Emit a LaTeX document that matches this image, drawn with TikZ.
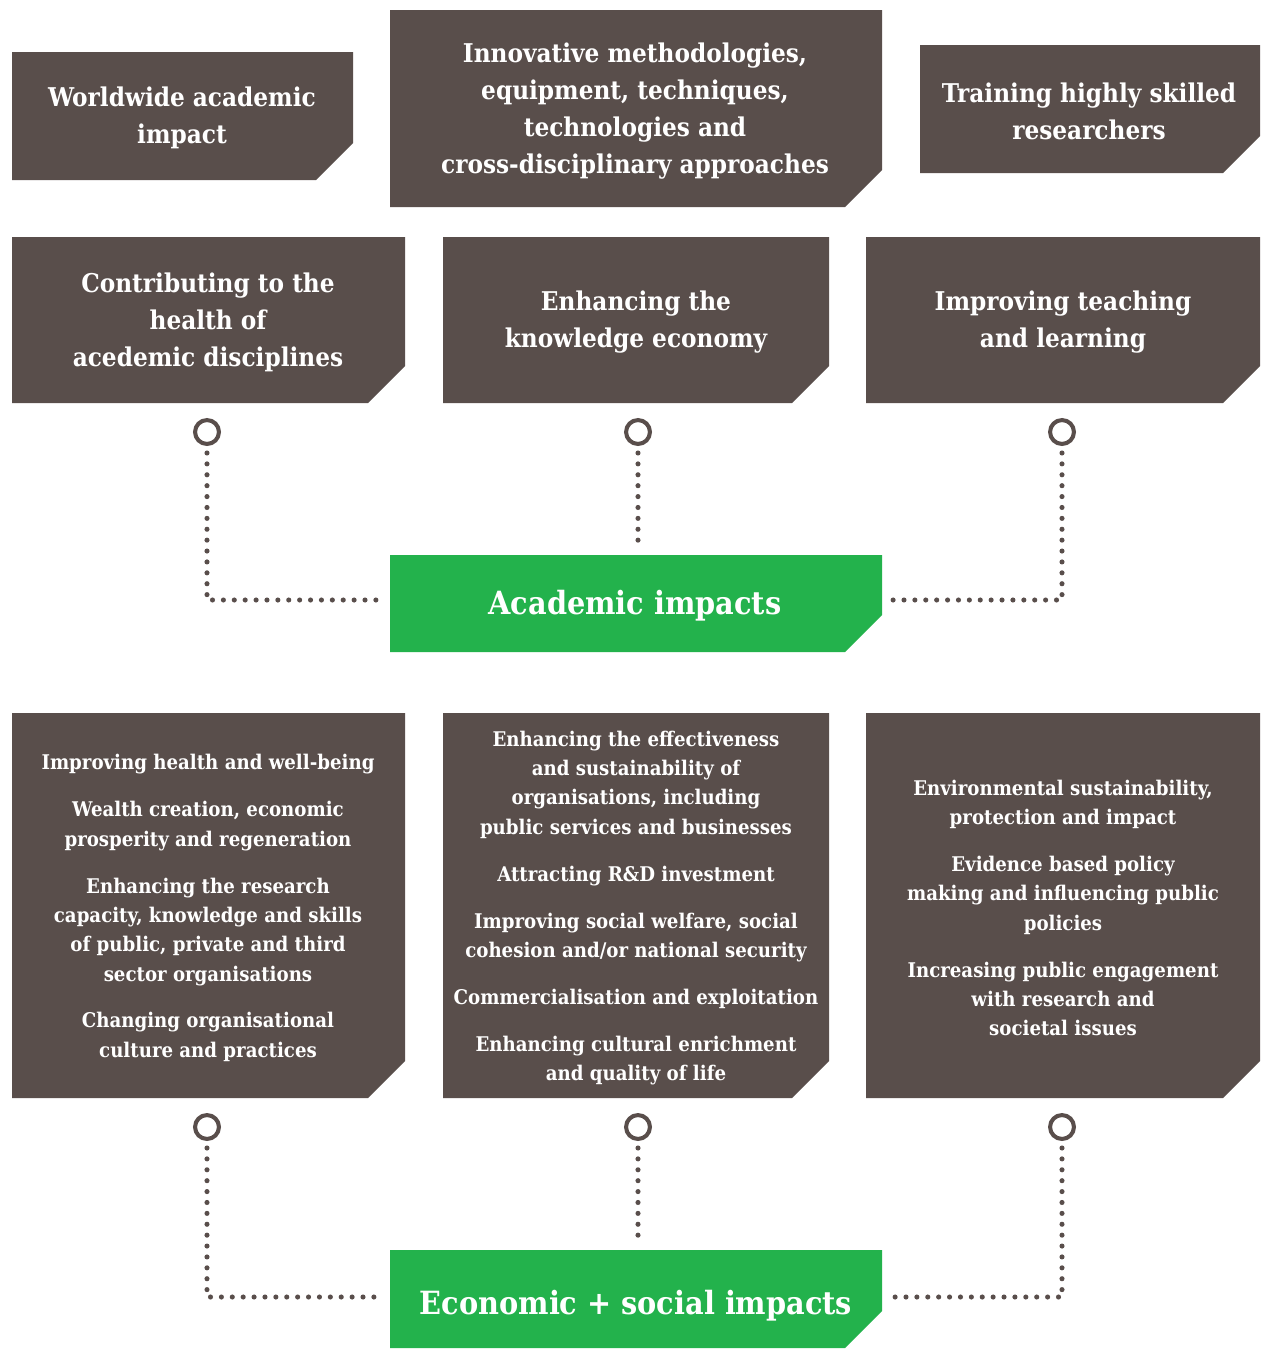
\documentclass[tikz,border=0pt]{standalone}
\usepackage{fontspec}
\setmainfont{DejaVu Serif Condensed}
\definecolor{boxbrown}{HTML}{594E4B}
\definecolor{boxgreen}{HTML}{23B24C}
\newcommand\cutbox[5]{\fill[#5] (#1,#2) -- (#3,#2) -- (#3,{#4-37}) -- ({#3-37},#4) -- (#1,#4) -- cycle;}
\begin{document}
\begin{tikzpicture}[x=0.02cm,y=-0.02cm]
\tikzset{
 ring/.style={circle, draw=boxbrown, line width=2.3pt, fill=white, minimum size=13.6pt, inner sep=0pt},
 dotline/.style={boxbrown, line width=2.9pt, line cap=round, dash pattern=on 0pt off 6.2pt},
 bigtxt/.style={text=white, align=center, font=\bfseries\fontsize{14.7}{21}\selectfont},
 smalltxt/.style={text=white, align=center, font=\bfseries\fontsize{11.5}{16.7}\selectfont},
 greentxt/.style={text=white, font=\bfseries\fontsize{18.2}{22}\selectfont}
}
\useasboundingbox (0,0) rectangle (1277,1349);
\fill[white] (0,0) rectangle (1277,1349);
% top row
\cutbox{12}{52}{353}{180}{boxbrown}
\cutbox{390}{10}{882}{207}{boxbrown}
\cutbox{920}{45}{1260}{173}{boxbrown}
% second row
\cutbox{12}{237}{405}{403}{boxbrown}
\cutbox{443}{237}{829}{403}{boxbrown}
\cutbox{866}{237}{1260}{403}{boxbrown}
% green 1
\cutbox{390}{555}{882}{652}{boxgreen}
% third row
\cutbox{12}{713}{405}{1098}{boxbrown}
\cutbox{443}{713}{829}{1098}{boxbrown}
\cutbox{866}{713}{1260}{1098}{boxbrown}
% green 2
\cutbox{390}{1250}{882}{1348}{boxgreen}

\node[bigtxt] (t1) at (182,118) {Worldwide academic\\impact};
\node[bigtxt] (t2) at (635,111) {Innovative methodologies,\\equipment, techniques,\\technologies and\\cross-disciplinary approaches};
\node[bigtxt] (t3) at (1089,111) {Training highly skilled\\researchers};
\node[bigtxt] (t4) at (208,322) {Contributing to the\\health of\\acedemic disciplines};
\node[bigtxt] (t5) at (636,322) {Enhancing the\\knowledge economy};
\node[bigtxt] (t6) at (1063,322) {Improving teaching\\and learning};
\node[greentxt] (g1) at (635,606) {Academic impacts};
\node[greentxt] (g2) at (636,1306) {Economic + social impacts};

\node[smalltxt] (t7) at (208,908) {Improving health and well-being\\[10pt]
Wealth creation, economic\\prosperity and regeneration\\[10pt]
Enhancing the research\\capacity, knowledge and skills\\of public, private and third\\sector organisations\\[10pt]
Changing organisational\\culture and practices};
\node[smalltxt] (t8) at (636,908) {Enhancing the effectiveness\\and sustainability of\\organisations, including\\public services and businesses\\[10pt]
Attracting R\&D investment\\[10pt]
Improving social welfare, social\\cohesion and/or national security\\[10pt]
Commercialisation and exploitation\\[10pt]
Enhancing cultural enrichment\\and quality of life};
\node[smalltxt] (t9) at (1063,908) {Environmental sustainability,\\protection and impact\\[10pt]
Evidence based policy\\making and influencing public\\policies\\[10pt]
Increasing public engagement\\with research and\\societal issues};

% rings
\node[ring] (c1) at (207,432) {};
\node[ring] (c2) at (638,432) {};
\node[ring] (c3) at (1062,432) {};
\node[ring] (c4) at (207,1127) {};
\node[ring] (c5) at (638,1127) {};
\node[ring] (c6) at (1062,1127) {};
\coordinate (a1) at (378,600);
\coordinate (a2) at (638,541);
\coordinate (a3) at (893,600);
\coordinate (b1) at (378,1297);
\coordinate (b2) at (638,1237);
\coordinate (b3) at (893,1297);
\coordinate (s1) at (207,453);
\coordinate (s2) at (638,453);
\coordinate (s3) at (1062,453);
\coordinate (u1) at (207,1148);
\coordinate (u2) at (638,1148);
\coordinate (u3) at (1062,1148);
\draw[dotline] (s1) |- (a1);
\draw[dotline] (s2) -- (a2);
\draw[dotline] (s3) |- (a3);
\draw[dotline] (u1) |- (b1);
\draw[dotline] (u2) -- (b2);
\draw[dotline] (u3) |- (b3);
\end{tikzpicture}
\end{document}
